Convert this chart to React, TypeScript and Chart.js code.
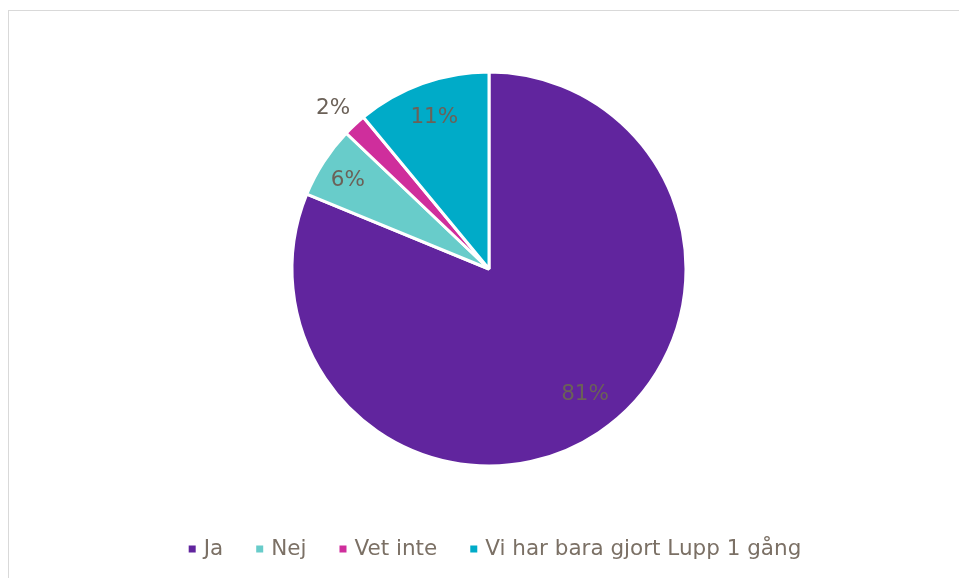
import React, { useEffect, useRef } from "react";
import { Chart, registerables } from "chart.js";

Chart.register(...registerables);

const categories = ["Ja", "Nej", "Vet inte", "Vi har bara gjort Lupp 1 gång"];
const values = [81.2, 5.9, 1.9, 11.0];
const colors = ["#61259E", "#68CCCA", "#CF2E9C", "#00ABC8"];

// label placement style: radial factor and angular nudge (degrees) per slice
const labelRadius = [0.8, 0.845, 1.137, 0.82];
const labelNudge = [-3.7, -0.9, -1.1, 0];

const FONT = "'DejaVu Sans', Verdana, sans-serif";
const FONT_SIZE = 21.5;

const labelPlugin = {
  id: "sliceLabels",
  afterDatasetsDraw(chart: any) {
    const ctx = chart.ctx;
    const meta = chart.getDatasetMeta(0);
    const data = chart.data.datasets[0].data as number[];
    ctx.save();
    ctx.font = `${FONT_SIZE}px ${FONT}`;
    ctx.fillStyle = "#6b6158";
    ctx.textAlign = "center";
    ctx.textBaseline = "middle";
    meta.data.forEach((arc: any, i: number) => {
      const { x, y, startAngle, endAngle, outerRadius } = arc.getProps(
        ["x", "y", "startAngle", "endAngle", "outerRadius"],
        true
      );
      const mid = (startAngle + endAngle) / 2 + (labelNudge[i] * Math.PI) / 180;
      const r = outerRadius * labelRadius[i];
      ctx.fillText(
        Math.round(data[i]) + "%",
        x + Math.cos(mid) * r,
        y + Math.sin(mid) * r
      );
    });

    // bottom legend
    const box = 7;
    const boxGap = 8;
    const itemGap = 33;
    ctx.textAlign = "left";
    const widths = categories.map((t) => ctx.measureText(t).width);
    const total =
      widths.reduce((s, w) => s + box + boxGap + w, 0) +
      itemGap * (categories.length - 1);
    const cx = chart.chartArea.left + chart.chartArea.width / 2 + 6;
    const ly = chart.height - 29;
    let x = cx - total / 2;
    categories.forEach((t, i) => {
      ctx.fillStyle = colors[i];
      ctx.fillRect(x, ly - box / 2, box, box);
      x += box + boxGap;
      ctx.fillStyle = "#7b7065";
      ctx.fillText(t, x, ly);
      x += widths[i] + itemGap;
    });
    ctx.restore();
  },
};

export default function App() {
  const ref = useRef<HTMLCanvasElement | null>(null);
  useEffect(() => {
    if (!ref.current) return;
    const chart = new Chart(ref.current, {
      type: "pie",
      data: {
        labels: categories,
        datasets: [
          {
            data: values,
            backgroundColor: colors,
            borderColor: "#ffffff",
            borderWidth: 3,
          },
        ],
      },
      options: {
        animation: false,
        responsive: false,
        radius: 197,
        layout: { padding: { left: 10, right: 0, top: 20, bottom: 71 } },
        plugins: {
          tooltip: { enabled: false },
          legend: { display: false },
        },
      } as any,
      plugins: [labelPlugin],
    });
    return () => chart.destroy();
  }, []);
  return (
    <div
      style={{
        position: "absolute",
        left: 8,
        top: 10,
        width: 951,
        height: 568,
        borderTop: "1px solid #d9d9d9",
        borderLeft: "1px solid #d9d9d9",
        boxSizing: "border-box",
        background: "#fff",
      }}
    >
      <canvas ref={ref} width={950} height={567} style={{ display: "block" }} />
    </div>
  );
}
